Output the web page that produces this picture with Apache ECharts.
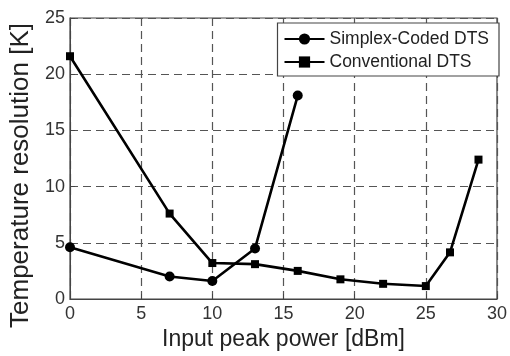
<!DOCTYPE html>
<html><head><meta charset="utf-8">
<script src="https://cdn.jsdelivr.net/npm/echarts@6/dist/echarts.min.js"></script>
<style>html,body{margin:0;padding:0;background:#fff}#c{width:510px;height:356px}</style>
</head><body><div id="c"></div>
<script>
const simplexX = [0, 7, 10, 13, 16];
const simplexY = [4.6, 2.0, 1.6, 4.5, 18.1];
const convX = [0, 7, 10, 13, 16, 19, 22, 25, 26.7, 28.7];
const convY = [21.6, 7.6, 3.2, 3.1, 2.5, 1.75, 1.35, 1.15, 4.15, 12.4];
const xTicks = [0, 5, 10, 15, 20, 25, 30];
const yTicks = [0, 5, 10, 15, 20, 25];
const seriesNames = ['Simplex-Coded DTS', 'Conventional DTS'];

const chart = echarts.init(document.getElementById('c'), null, {renderer: 'canvas'});
const font = 'Liberation Sans, Arial, sans-serif';
const zip = (xs, ys) => xs.map((x, i) => [x, ys[i]]);
chart.setOption({
  animation: false,
  grid: {left: 70, right: 12, top: 18, bottom: 54, show: true, borderColor: '#444', borderWidth: 1.2},
  xAxis: {
    type: 'value', min: xTicks[0], max: xTicks[xTicks.length-1], interval: 5,
    name: 'Input peak power [dBm]', nameLocation: 'middle', nameGap: 29,
    nameTextStyle: {fontSize: 23, color: '#222', fontFamily: font},
    axisLine: {show: true, lineStyle: {color: '#444'}},
    axisTick: {show: true, inside: true, length: 5, lineStyle: {color: '#444'}},
    axisLabel: {fontSize: 18, color: '#333', fontFamily: font, margin: 6},
    splitLine: {show: true, lineStyle: {color: '#555', type: [8, 5], width: 1.2}}
  },
  yAxis: {
    type: 'value', min: yTicks[0], max: yTicks[yTicks.length-1], interval: 5,
    name: 'Temperature resolution [K]', nameLocation: 'middle', nameGap: 33,
    nameTextStyle: {fontSize: 26, color: '#222', fontFamily: font, padding: [0, 34, 0, 0]},
    axisLine: {show: true, lineStyle: {color: '#444'}},
    axisTick: {show: true, inside: true, length: 5, lineStyle: {color: '#444'}},
    axisLabel: {fontSize: 18, color: '#333', fontFamily: font, margin: 5},
    splitLine: {show: true, lineStyle: {color: '#555', type: [8, 5], width: 1.2}}
  },
  legend: {
    orient: 'vertical', right: 11, top: 23,
    backgroundColor: '#fff', borderColor: '#444', borderWidth: 1.2,
    padding: [7, 10, 5, 6], itemGap: 5, itemWidth: 40, itemHeight: 14,
    textStyle: {fontSize: 17.5, color: '#222', fontFamily: font},
    data: seriesNames
  },
  series: [
    {name: seriesNames[0], type: 'line', data: zip(simplexX, simplexY),
     symbol: 'circle', symbolSize: 10, color: '#000',
     lineStyle: {color: '#000', width: 2.6}, itemStyle: {color: '#000'}},
    {name: seriesNames[1], type: 'line', data: zip(convX, convY),
     symbol: 'rect', symbolSize: 8, color: '#000',
     lineStyle: {color: '#000', width: 2.6}, itemStyle: {color: '#000'}}
  ]
});
</script></body></html>
